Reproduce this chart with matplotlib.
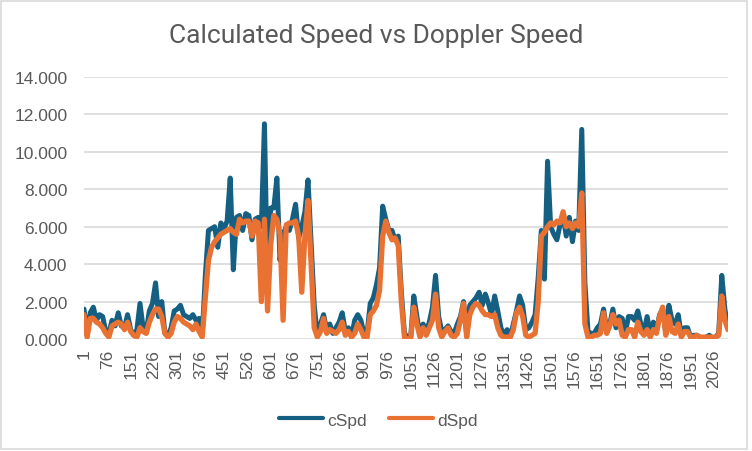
import numpy as np
import matplotlib.pyplot as plt
from matplotlib.patches import Rectangle

# sample index (every 10th row of the sheet)
idx = np.arange(1, 2072, 10)

cSpd = [
    1.6, 0.2, 1.4, 1.7, 1.0, 1.3, 1.2, 0.4, 0.3, 1.0,
    0.7, 1.4, 0.7, 0.6, 1.3, 0.5, 0.2, 0.5, 1.9, 0.6,
    0.4, 1.5, 1.9, 3.0, 1.2, 2.0, 0.3, 0.2, 0.6, 1.5,
    1.6, 1.8, 1.3, 1.2, 1.1, 1.3, 1.0, 1.1, 0.2, 3.4, 5.8,
    5.9, 6.0, 4.9, 6.2, 5.9, 6.3, 8.6, 3.7, 6.5, 6.6,
    5.8, 6.7, 6.6, 5.3, 6.4, 6.5, 6.0, 11.5, 2.8, 7.0,
    7.0, 8.6, 4.2, 5.6, 6.0, 5.8, 6.4, 7.2, 5.4, 6.0,
    6.8, 8.5, 5.2, 1.8, 0.2, 0.8, 1.3, 0.5, 0.8, 0.3, 0.6,
    0.9, 1.4, 0.4, 0.6, 0.1, 1.0, 1.3, 1.0, 0.3, 0.3,
    1.9, 2.2, 2.9, 3.8, 7.1, 6.4, 5.8, 5.8, 5.3, 5.5,
    2.5, 0.3, 0.1, 0.1, 2.3, 1.2, 0.2, 0.8, 0.4, 0.9,
    1.7, 3.4, 1.2, 0.4, 0.5, 0.7, 0.4, 0.3, 0.8, 1.2,
    2.0, 0.3, 1.8, 2.0, 2.2, 2.5, 1.8, 2.4, 1.9, 1.3, 2.3,
    1.5, 0.6, 0.2, 0.5, 0.1, 0.8, 1.5, 2.3, 1.8, 0.5,
    0.6, 0.9, 1.3, 3.3, 5.8, 3.2, 9.5, 6.0, 5.6, 5.3,
    6.1, 6.6, 5.5, 6.5, 5.2, 6.3, 5.8, 11.2, 3.0, 0.4,
    0.3, 0.3, 0.6, 0.8, 1.6, 0.5, 0.8, 1.6, 0.6, 1.2,
    1.1, 0.3, 1.2, 1.2, 1.0, 1.5, 0.8, 0.4, 1.2, 0.3, 0.9,
    0.4, 1.3, 1.6, 0.3, 1.8, 1.0, 0.8, 1.3, 0.2, 0.6,
    0.6, 0.1, 0.2, 0.2, 0.1, 0.05, 0.1, 0.2, 0.05, 0.1,
    0.3, 3.4, 1.6, 0.6,
]

dSpd = [
    1.3, 0.1, 1.1, 1.1, 0.9, 0.8, 0.6, 0.3, 0.1, 0.7,
    0.8, 0.9, 0.8, 0.5, 0.9, 0.4, 0.2, 0.1, 0.6, 0.4,
    0.3, 0.9, 1.3, 1.6, 1.6, 1.2, 0.3, 0.1, 0.3, 0.9,
    1.2, 1.1, 0.9, 0.8, 0.7, 0.5, 0.8, 0.4, 0.1, 2.2, 4.2,
    4.9, 5.2, 5.4, 5.6, 5.7, 5.8, 5.9, 5.7, 5.6, 6.4,
    6.2, 6.3, 6.3, 5.5, 6.3, 6.2, 2.0, 6.4, 1.5, 5.0,
    6.6, 6.4, 5.6, 1.0, 6.1, 6.2, 6.2, 6.3, 5.5, 2.5,
    5.5, 7.4, 4.0, 0.6, 0.1, 0.4, 1.1, 0.3, 0.5, 0.4, 0.3,
    0.5, 0.9, 0.2, 0.4, 0.1, 0.3, 0.8, 0.5, 0.1, 0.1,
    1.3, 1.5, 1.8, 2.6, 5.5, 6.3, 5.7, 5.3, 5.4, 5.0,
    2.0, 0.1, 0.0, 0.0, 1.7, 0.8, 0.1, 0.6, 0.2, 0.6,
    1.0, 2.4, 0.6, 0.1, 0.4, 0.6, 0.2, 0.1, 0.3, 1.0,
    1.9, 0.1, 1.3, 1.7, 1.9, 1.8, 1.5, 1.3, 1.3, 1.2, 1.3,
    0.6, 0.2, 0.1, 0.1, 0.1, 0.5, 1.4, 1.7, 1.2, 0.2,
    0.1, 0.2, 0.3, 2.0, 5.5, 5.7, 6.0, 6.2, 6.1, 6.3,
    6.2, 6.8, 6.0, 6.2, 5.9, 6.2, 6.0, 7.8, 0.8, 0.1,
    0.1, 0.2, 0.2, 0.3, 1.4, 0.3, 0.7, 1.3, 0.8, 1.0,
    0.2, 0.1, 0.5, 0.5, 0.1, 0.9, 0.4, 0.2, 0.5, 0.1, 0.5,
    0.3, 1.2, 1.7, 0.2, 1.2, 0.4, 0.3, 0.8, 0.1, 0.4,
    0.4, 0.1, 0.1, 0.2, 0.1, 0.1, 0.1, 0.1, 0.1, 0.1,
    0.2, 2.3, 1.0, 0.5,
]

xticks = list(range(1, 2027, 75))
yticks = [0, 2, 4, 6, 8, 10, 12, 14]

grey = '#595959'
tickfont = ['Liberation Sans', 'DejaVu Sans']

fig = plt.figure(figsize=(7.52, 4.52), dpi=100)
ax = fig.add_axes([84 / 752, 1 - 340 / 452, (728 - 84) / 752, (340 - 78) / 452])

ax.plot(idx, cSpd, color='#156082', lw=3.6, solid_joinstyle='round',
        solid_capstyle='round', label='cSpd', zorder=3)
ax.plot(idx, dSpd, color='#E97132', lw=3.8, solid_joinstyle='round',
        solid_capstyle='round', label='dSpd', zorder=4)

ax.set_xlim(1, 2071)
ax.set_ylim(0, 14)
ax.set_yticks(yticks)
ax.set_yticklabels(['%.3f' % v for v in yticks], family=tickfont, fontsize=12.5, color=grey)
ax.set_xticks(xticks)
ax.set_xticklabels([str(v) for v in xticks], rotation=90, family=tickfont,
                   fontsize=12.5, color=grey)
ax.tick_params(length=0)
ax.tick_params(axis='y', pad=12)
ax.tick_params(axis='x', pad=7)
ax.grid(axis='y', color='#D9D9D9', lw=1.2)
ax.set_axisbelow(True)
for s in ax.spines.values():
    s.set_visible(False)

fig.suptitle('Calculated Speed vs Doppler Speed', y=1 - 36 / 452, va='center',
             fontsize=19, color=grey, family=['Roboto', 'DejaVu Sans'])

leg = fig.legend(loc='center', bbox_to_anchor=(0.503, 1 - 421 / 452), ncol=2,
                 frameon=False, prop={'family': tickfont, 'size': 12.5},
                 handlelength=2.5, columnspacing=1.3, handletextpad=0.25,
                 labelcolor=grey)
for h in leg.get_lines():
    h.set_linewidth(3.0)
    h.set_solid_capstyle('round')

fig.patches.append(Rectangle((1 / 752, 2 / 452), 746 / 752, 448 / 452,
                             transform=fig.transFigure, fill=False,
                             edgecolor='#D9D9D9', lw=1.2))

fig.savefig('out.png', dpi=100)
